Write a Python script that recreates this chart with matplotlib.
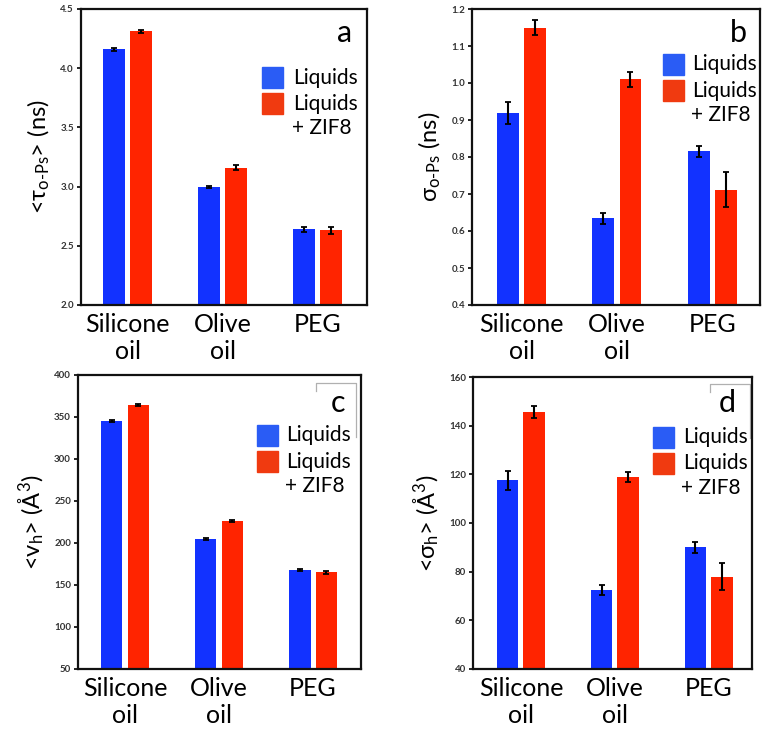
import matplotlib

matplotlib.use("Agg")
import matplotlib.pyplot as plt
import numpy as np
from matplotlib.patches import Rectangle

plt.rcParams["font.family"] = ["Lato", "DejaVu Sans"]
plt.rcParams["mathtext.fontset"] = "custom"
plt.rcParams["mathtext.rm"] = "Lato"
plt.rcParams["mathtext.it"] = "Lato"
plt.rcParams["mathtext.sf"] = "DejaVu Sans"

# --- data -------------------------------------------------------------------
categories = ["Silicone\noil", "Olive\noil", "PEG"]

tau_liq = [4.16, 3.00, 2.64]
tau_liq_err = [0.012, 0.008, 0.02]
tau_zif = [4.31, 3.16, 2.63]
tau_zif_err = [0.012, 0.02, 0.03]

sig_liq = [0.92, 0.635, 0.815]
sig_liq_err = [0.03, 0.015, 0.016]
sig_zif = [1.15, 1.01, 0.712]
sig_zif_err = [0.02, 0.02, 0.048]

vh_liq = [345, 205, 168]
vh_liq_err = [1.0, 1.0, 1.2]
vh_zif = [364, 226, 165]
vh_zif_err = [1.0, 1.0, 2.0]

sh_liq = [117.5, 72.5, 90.0]
sh_liq_err = [3.8, 2.0, 2.2]
sh_zif = [145.5, 119.0, 78.0]
sh_zif_err = [2.5, 2.0, 5.5]

BLUE = "#1232ff"
RED = "#ff2400"
LEG_BLUE = "#2a5cf5"
LEG_RED = "#f03a10"

# panel setup: pixel rect (l, t, r, b), axis ranges, labels, legend / letter spots
W, H = 765, 729
panels = [
    dict(px=(81, 9, 367, 305), ylim=(2.0, 4.5), yt=np.arange(2.0, 4.51, 0.5), fmt="{:.1f}",
         ylabel=r"<$\tau_{\mathrm{o\text{-}Ps}}$> (ns)", letter="a", xlim=(-0.49, 2.52),
         liq=tau_liq, liqe=tau_liq_err, zif=tau_zif, zife=tau_zif_err,
         leg=(0.633, 0.804, 0.741), let=(0.923, 0.92), bracket=None),
    dict(px=(472, 9, 760, 305), ylim=(0.4, 1.2), yt=np.arange(0.4, 1.21, 0.1), fmt="{:.1f}",
         ylabel=r"$\sigma_{\mathrm{o\text{-}Ps}}$ (ns)", letter="b", xlim=(-0.52, 2.50),
         liq=sig_liq, liqe=sig_liq_err, zif=sig_zif, zife=sig_zif_err,
         leg=(0.663, 0.848, 0.764), let=(0.924, 0.92), bracket=None),
    dict(px=(78, 375, 361, 669), ylim=(50, 400), yt=np.arange(50, 401, 50), fmt="{:.0f}",
         ylabel=r"<v$_\mathrm{h}$> (Å$^3$)", letter="c", xlim=(-0.50, 2.51),
         liq=vh_liq, liqe=vh_liq_err, zif=vh_zif, zife=vh_zif_err,
         leg=(0.632, 0.830, 0.735), let=(0.92, 0.905),
         bracket=((316, 383), (356, 437))),
    dict(px=(473, 377, 752, 669), ylim=(40, 160), yt=np.arange(40, 161, 20), fmt="{:.0f}",
         ylabel=r"<$\sigma_\mathrm{h}$> (Å$^3$)", letter="d", xlim=(-0.51, 2.46),
         liq=sh_liq, liqe=sh_liq_err, zif=sh_zif, zife=sh_zif_err,
         leg=(0.645, 0.829, 0.753), let=(0.91, 0.91),
         bracket=((710, 384), (750, 438))),
]

fig = plt.figure(figsize=(W / 100, H / 100), dpi=100)
x = np.arange(len(categories))
width, off = 0.23, 0.142

for p in panels:
    l, t, r, b = p["px"]
    ax = fig.add_axes([l / W, 1 - b / H, (r - l) / W, (b - t) / H])
    err_kw = dict(ecolor="black", capsize=2.5, elinewidth=1.5, capthick=1.3)
    ax.bar(x - off, p["liq"], width, yerr=p["liqe"], color=BLUE, error_kw=err_kw)
    ax.bar(x + off, p["zif"], width, yerr=p["zife"], color=RED, error_kw=err_kw)
    ax.set_ylim(*p["ylim"])
    ax.set_xlim(*p["xlim"])
    ax.set_yticks(p["yt"])
    ax.set_yticklabels([p["fmt"].format(v) for v in p["yt"]], fontsize=7,
                       fontweight="bold", color="#333333")
    ax.set_xticks(x)
    ax.set_xticklabels(categories, fontsize=18)
    for lab in ax.get_xticklabels():
        lab.set_linespacing(1.2)
    ax.tick_params(axis="x", length=0, pad=6)
    ax.tick_params(axis="y", direction="out", length=3, width=1.2, pad=2)
    for s in ax.spines.values():
        s.set_linewidth(1.6)
        s.set_color("#111111")
    ax.set_ylabel(p["ylabel"], fontsize=17, labelpad=6)

    # legend drawn by hand so the red swatch sits on the first line
    lx, ly, tx = p["leg"]
    sw_w, sw_h, gap = 0.074, 0.071, 0.018
    ax.add_patch(Rectangle((lx, ly - sw_h), sw_w, sw_h, transform=ax.transAxes,
                           color=LEG_BLUE, clip_on=False))
    ax.add_patch(Rectangle((lx, ly - 2 * sw_h - gap), sw_w, sw_h, transform=ax.transAxes,
                           color=LEG_RED, clip_on=False))
    ax.text(tx, ly - sw_h / 2, "Liquids", transform=ax.transAxes, fontsize=15,
            va="center", ha="left")
    ax.text(tx, ly - 1.5 * sw_h - gap, "Liquids", transform=ax.transAxes, fontsize=15,
            va="center", ha="left")
    ax.text(tx + 0.1, ly - 2.5 * sw_h - gap - 0.012, "+ ZIF8", transform=ax.transAxes,
            fontsize=15, va="center", ha="center")
    ax.text(p["let"][0], p["let"][1], p["letter"], transform=ax.transAxes, fontsize=22,
            va="center", ha="center")

    if p["bracket"] is not None:
        (x0, y0), (x1, y1) = p["bracket"]
        fx = lambda v: (v - l) / (r - l)
        fy = lambda v: 1 - (v - t) / (b - t)
        ax.plot([fx(x0), fx(x0), fx(x1), fx(x1)], [fy(y0 + 8), fy(y0), fy(y0), fy(y1)],
                transform=ax.transAxes, color="#b0b0b0", lw=0.9, clip_on=False)

fig.savefig("out.png", dpi=100)
